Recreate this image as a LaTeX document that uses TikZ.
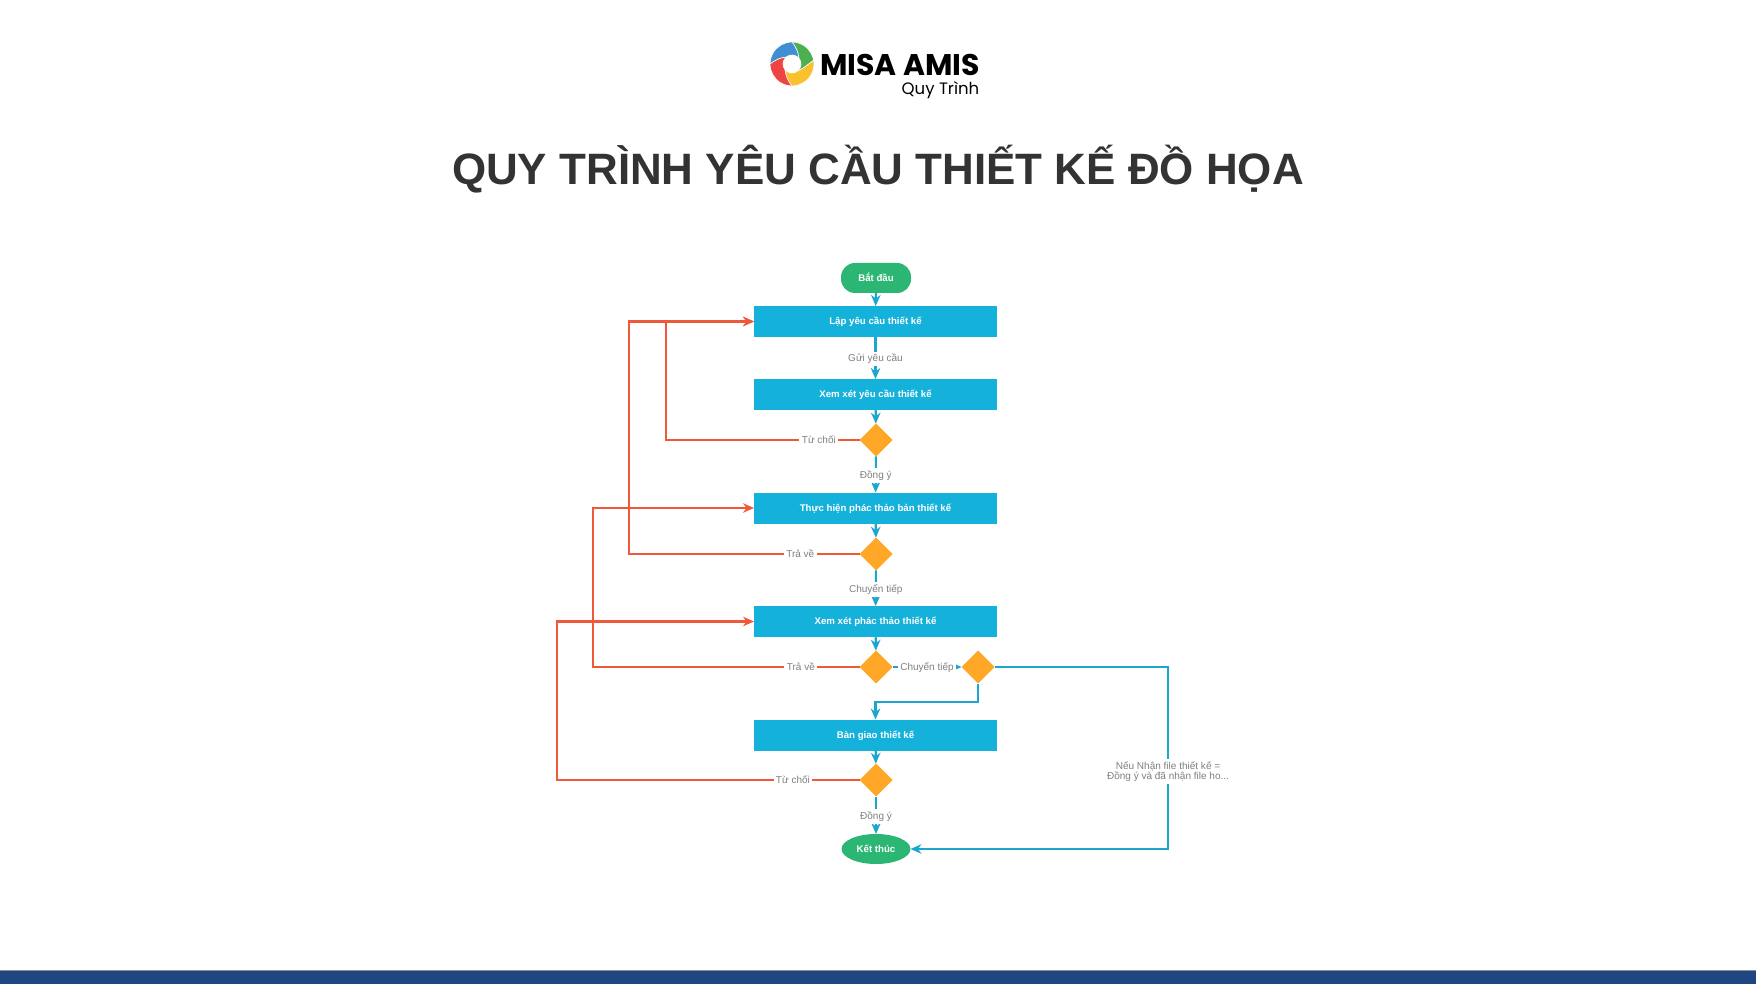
\documentclass[tikz,border=0pt]{standalone}
\usepackage{fontspec}
\setmainfont{Liberation Sans}
\newfontfamily\logofont{Poppins}
\usetikzlibrary{arrows.meta,shapes.geometric}
\definecolor{kblue}{HTML}{14B1DA}
\definecolor{kline}{HTML}{1BA6CF}
\definecolor{kgreen}{HTML}{2BB673}
\definecolor{korange}{HTML}{FFA726}
\definecolor{kred}{HTML}{F0583A}
\definecolor{kgrey}{HTML}{808080}
\definecolor{kfoot}{HTML}{1F4583}
\definecolor{lgreen}{HTML}{4CAF50}
\definecolor{lblue}{HTML}{3F8FD2}
\definecolor{lred}{HTML}{EF4444}
\definecolor{lyellow}{HTML}{FBC02D}
\tikzset{
  kbold/.style={inner sep=0pt, outer sep=0pt, text=white, text height=2.0pt, text depth=0.2pt, font=\fontsize{2.75}{3.4}\selectfont\bfseries},
  kstep/.style={kbold, fill=kblue, minimum width=2.43cm, minimum height=0.31cm},
  kterm/.style={kbold, fill=kgreen, rounded corners=0.14cm, minimum width=0.70cm, minimum height=0.30cm},
  kend/.style={kbold, ellipse, fill=kgreen, minimum width=0.69cm, minimum height=0.30cm},
  kdecision/.style={diamond, fill=korange, minimum width=0.33cm, minimum height=0.33cm, inner sep=0pt, outer sep=0pt},
  klabel/.style={fill=white, inner sep=0.7pt, text=kgrey, align=center, font=\fontsize{2.85}{3.1}\selectfont},
  flow/.style={-{Stealth[length=0.11cm, width=0.095cm]}, draw=kline, line width=0.6pt},
  back/.style={-{Stealth[length=0.11cm, width=0.095cm]}, draw=kred, line width=0.6pt},
}

\begin{document}
\begin{tikzpicture}
    \useasboundingbox (0,0) rectangle (17.56,9.84);
    % footer and title
    \fill[black!45] (0,0) rectangle (17.56,0.14);
    \fill[kfoot] (0,0) rectangle (17.56,0.13);
    \node[text=black!80, font=\fontsize{12.5}{15}\selectfont\bfseries] (title) at (8.78,8.15) {QUY TRÌNH YÊU CẦU THIẾT KẾ ĐỒ HỌA};
    % logo
    \foreach \a/\c in {0/lgreen, 90/lblue, 180/lred, 270/lyellow}{
      \fill[\c, draw=white, line width=0.2pt, shift={(7.92,9.20)}] (\a:0.22) arc (\a:\a+100:0.22) .. controls ({\a+85}:0.15) and ({\a+60}:0.11) .. ({\a+40}:0.09) arc (\a+40:\a-50:0.09) .. controls ({\a-30}:0.13) and ({\a-15}:0.17) .. cycle;
    }
    \node[inner sep=0pt, font=\fontsize{8.5}{9}\logofont\bfseries] (logoname) at (9.00,9.19) {MISA AMIS};
    \node[inner sep=0pt, font=\fontsize{4.7}{5}\logofont] (logosub) at (9.405,8.94) {Quy Trình};
    % flow
    \node[kterm] (start) at (8.76,7.06) {Bắt đầu};
    \node[kstep] (draft) at (8.755,6.625) {Lập yêu cầu thiết kế};
    \node[kstep] (review) at (8.755,5.895) {Xem xét yêu cầu thiết kế};
    \node[kdecision] (decreview) at (8.76,5.44) {};
    \node[kstep] (sketch) at (8.755,4.76) {Thực hiện phác thảo bản thiết kế};
    \node[kdecision] (decsketch) at (8.76,4.30) {};
    \node[kstep] (check) at (8.755,3.625) {Xem xét phác thảo thiết kế};
    \node[kdecision] (deccheck) at (8.76,3.17) {};
    \node[kdecision] (decnext) at (9.78,3.17) {};
    \node[kstep] (hand) at (8.755,2.49) {Bàn giao thiết kế};
    \node[kdecision] (dechand) at (8.76,2.04) {};
    \node[kend] (finish) at (8.76,1.35) {Kết thúc};
    \coordinate (turnreview) at (6.66,5.44);
    \coordinate (turnsketch) at (6.29,4.30);
    \coordinate (turncheck) at (5.93,3.17);
    \coordinate (turnhand) at (5.57,2.04);
    \coordinate (turnnext) at (9.78,2.82);
    \coordinate (turnfar) at (11.68,3.17);
    \draw[flow] (start) -- (draft);
    \draw[flow] (draft) -- (review) node[midway, klabel, yshift=-0.01cm]{Gửi yêu cầu};
    \draw[flow] (review) -- (decreview);
    \draw[flow] (decreview) -- (sketch) node[midway, klabel, yshift=-0.01cm]{Đồng ý};
    \draw[flow] (sketch) -- (decsketch);
    \draw[flow] (decsketch) -- (check) node[midway, klabel, yshift=-0.01cm]{Chuyển tiếp};
    \draw[flow] (check) -- (deccheck);
    \draw[flow] (deccheck) -- (decnext) node[pos=0.5, klabel]{Chuyển tiếp};
    \draw[flow] (decnext) -- (turnnext) -- (turnnext -| hand) -- (hand);
    \draw[flow] (hand) -- (dechand);
    \draw[flow] (dechand) -- (finish) node[midway, klabel, yshift=-0.01cm]{Đồng ý};
    \draw[flow] (decnext) -- (turnfar) -- (turnfar |- finish) node[pos=0.575, klabel]{Nếu Nhận file thiết kế =\\Đồng ý và đã nhận file ho...} -- (finish);
    \draw[back] (decreview) -- (turnreview) node[pos=0.21, klabel]{Từ chối} -- (turnreview |- draft) -- (draft);
    \draw[back] (decsketch) -- (turnsketch) node[pos=0.257, klabel]{Trả về} -- (turnsketch |- draft) -- (draft);
    \draw[back] (deccheck) -- (turncheck) node[pos=0.22, klabel]{Trả về} -- (turncheck |- sketch) -- (sketch);
    \draw[back] (dechand) -- (turnhand) node[pos=0.22, klabel]{Từ chối} -- (turnhand |- check) -- (check);
\end{tikzpicture}
\end{document}
